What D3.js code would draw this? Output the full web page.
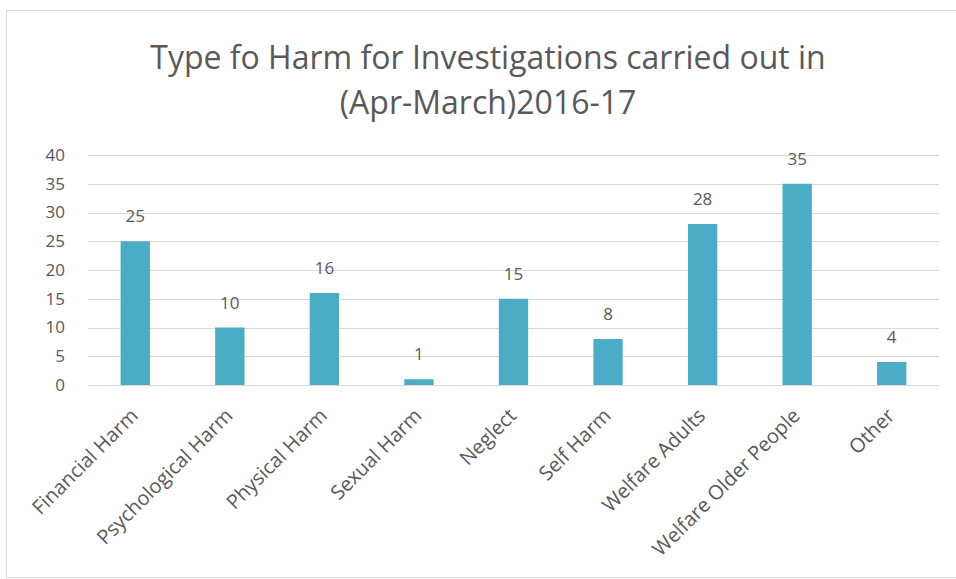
<!DOCTYPE html>
<html>
<head>
<meta charset="utf-8">
<script src="https://cdn.jsdelivr.net/npm/d3@7"></script>
<style>
  body { margin: 0; background: #fff; }
  text { font-family: 'Open Sans', sans-serif; fill: #595959; }
</style>
</head>
<body>
<svg id="chart"></svg>
<script>
var categories = ['Financial Harm', 'Psychological Harm', 'Physical Harm', 'Sexual Harm', 'Neglect',
    'Self Harm', 'Welfare Adults', 'Welfare Older People', 'Other'];
var values = [25, 10, 16, 1, 15, 8, 28, 35, 4];
var yTicks = [0, 5, 10, 15, 20, 25, 30, 35, 40];
var titleLines = ['Type fo Harm for Investigations carried out in', '(Apr-March)2016-17'];

(function() {
    'use strict';

    var WIDTH = 956, HEIGHT = 579;
    var margin = { top: 155, right: 17, bottom: 194, left: 88 };

    var svg = d3.select('#chart').attr('width', WIDTH).attr('height', HEIGHT);

    // chart frame
    svg.append('rect')
        .attr('x', 6.5).attr('y', 10.5)
        .attr('width', WIDTH).attr('height', HEIGHT - 12)
        .attr('fill', 'none').attr('stroke', '#d9d9d9');

    svg.selectAll('.title').data(titleLines).enter()
        .append('text')
            .attr('class', 'title')
            .attr('x', 488)
            .attr('y', (d, i) => 69 + i * 45)
            .attr('text-anchor', 'middle')
            .style('font-size', '32px')
            .text(d => d);

    var x = d3.scaleBand()
        .domain(categories)
        .range([margin.left, WIDTH - margin.right])
        .paddingInner(0.69)
        .paddingOuter(0.345);

    var y = d3.scaleLinear()
        .domain([0, 40])
        .range([HEIGHT - margin.bottom, margin.top]);

    // gridlines
    svg.append('g').selectAll('line').data(yTicks).enter()
        .append('line')
            .attr('x1', margin.left).attr('x2', WIDTH - margin.right)
            .attr('y1', d => Math.round(y(d)) + 0.5).attr('y2', d => Math.round(y(d)) + 0.5)
            .attr('stroke', '#d9d9d9').attr('stroke-width', 1);

    var yAxis = svg.append('g')
        .attr('transform', 'translate(' + (margin.left - 20) + ',0)')
        .call(d3.axisLeft(y).tickValues(yTicks).tickSize(0));
    yAxis.select('.domain').remove();
    yAxis.selectAll('text').style('font-size', '17px').attr('fill', '#595959');

    svg.append('g').selectAll('rect').data(values).enter()
        .append('rect')
            .attr('x', (d, i) => x(categories[i]))
            .attr('y', d => y(d))
            .attr('width', x.bandwidth())
            .attr('height', d => y(0) - y(d))
            .attr('fill', '#4bacc6');

    svg.append('g').selectAll('text').data(values).enter()
        .append('text')
            .attr('x', (d, i) => x(categories[i]) + x.bandwidth() / 2)
            .attr('y', d => y(d) - 19)
            .attr('text-anchor', 'middle')
            .style('font-size', '17px')
            .text(d => d);

    svg.append('g').selectAll('text').data(categories).enter()
        .append('text')
            .attr('text-anchor', 'end')
            .attr('transform', d => 'translate(' + (x(d) + x.bandwidth() / 2 + 4) + ',' + (y(0) + 32) + ') rotate(-45)')
            .style('font-size', '20px')
            .text(d => d);
})();
</script>
</body>
</html>
